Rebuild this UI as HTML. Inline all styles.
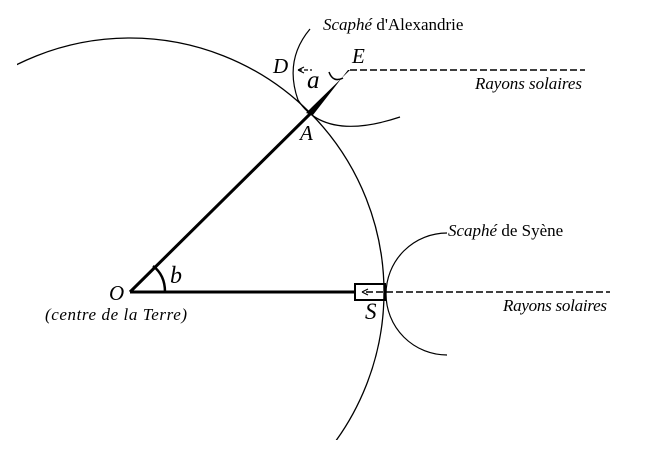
<!DOCTYPE html>
<html><head><style>html,body{margin:0;background:#fff;overflow:hidden;width:672px;height:449px}svg{display:block}</style></head><body>
<svg width="672" height="449" xmlns="http://www.w3.org/2000/svg" font-family="Liberation Serif, serif">
<rect width="672" height="449" fill="#fff"/>
<clipPath id="c"><rect x="17" y="0" width="655" height="440"/></clipPath>
<circle cx="130" cy="292" r="254" fill="none" stroke="#000" stroke-width="1.3" clip-path="url(#c)"/>
<path d="M310,29 Q284,60 298,100 Q325,142 400,117" fill="none" stroke="#000" stroke-width="1.2"/>
<path d="M447,233 A61,61 0 0 0 447,355" fill="none" stroke="#000" stroke-width="1.2"/>
<line x1="130" y1="292" x2="311" y2="113" stroke="#000" stroke-width="3"/>
<polygon points="306,113 312,107 350,70 348,70 313,115" fill="#000"/>
<line x1="130" y1="292" x2="356" y2="292" stroke="#000" stroke-width="3"/>
<rect x="355" y="284" width="30" height="16" fill="none" stroke="#000" stroke-width="2"/>
<line x1="350" y1="70" x2="585" y2="70" stroke="#000" stroke-width="1.6" stroke-dasharray="7,3"/>
<line x1="298" y1="70" x2="312" y2="70" stroke="#000" stroke-width="1.2" stroke-dasharray="4,2"/>
<path d="M298,70 L304,67 M298,70 L304,73" stroke="#000" stroke-width="1.2"/>
<line x1="366" y1="292" x2="610" y2="292" stroke="#000" stroke-width="1.6" stroke-dasharray="7,3"/>
<path d="M362,292 L368,289 M362,292 L368,295" stroke="#000" stroke-width="1.2"/>
<path d="M329,72 Q333,83 343,78" fill="none" stroke="#000" stroke-width="1.5"/>
<path d="M153,266 Q165,275 165,292" fill="none" stroke="#000" stroke-width="2.5"/>
<g font-style="italic" font-size="21">
<text x="273" y="73">D</text><text x="352" y="63">E</text><text x="307" y="88" font-size="25">a</text>
<text x="300" y="140">A</text><text x="109" y="300">O</text><text x="170" y="283" font-size="24">b</text>
<text x="365" y="319" font-size="23">S</text>
</g>
<g font-size="17">
<text x="323" y="30"><tspan font-style="italic">Scaphé</tspan> d'Alexandrie</text>
<text x="448" y="236"><tspan font-style="italic">Scaphé</tspan> de Syène</text>
</g>
<g font-size="17" font-style="italic">
<text x="475" y="89" textLength="107">Rayons solaires</text>
<text x="503" y="311" textLength="104">Rayons solaires</text>
<text x="45" y="320" textLength="142">(centre de la Terre)</text>
</g>
</svg>
</body></html>
